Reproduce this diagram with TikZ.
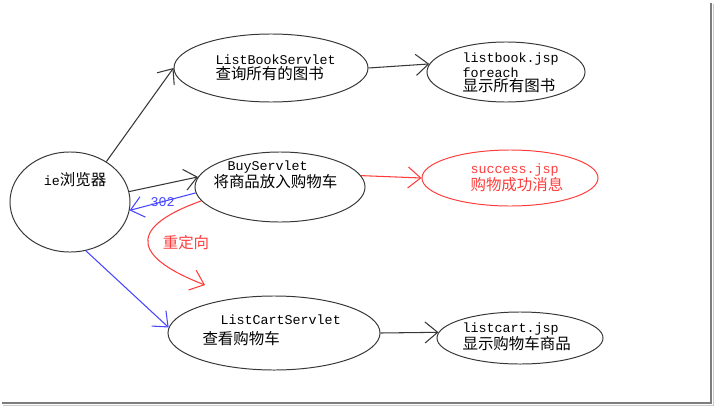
\documentclass[tikz,border=0pt]{standalone}
\usepackage{fontspec}
\setmonofont{Liberation Mono}
\newfontfamily\cjkfont{Noto Sans CJK SC}
\usetikzlibrary{shapes.geometric, arrows.meta}
\definecolor{inkgray}{RGB}{55,55,55}
\definecolor{penblue}{RGB}{70,70,255}
\definecolor{penred}{RGB}{255,60,60}
\definecolor{shadowgray}{RGB}{125,125,125}
\newcommand{\zh}[1]{{\cjkfont\fontsize{11}{11}\selectfont #1}}

\begin{document}
\begin{tikzpicture}[x=0.025cm, y=-0.025cm, >={Straight Barb[length=9pt,width=15pt]}, line width=0.75pt]
  \tikzstyle{bubble} = [ellipse, draw=inkgray, line width=0.7pt, inner sep=0]
  \tikzstyle{caption} = [inner sep=0, align=left, anchor=west, font=\ttfamily\fontsize{9.5}{10.5}\selectfont]
  \useasboundingbox (0,0) rectangle (715,407);

  % ellipses
  \node [bubble, minimum width=3cm, minimum height=2.5cm] (ie) at (70,202) {};
  \node [bubble, minimum width=4.85cm, minimum height=1.7cm] (book) at (271,68) {};
  \node [bubble, minimum width=3.95cm, minimum height=1.5cm] (bookjsp) at (506,72) {};
  \node [bubble, minimum width=4.25cm, minimum height=1.75cm] (buy) at (280,187) {};
  \node [bubble, draw=penred, minimum width=4.4cm, minimum height=1.4cm] (success) at (510,178) {};
  \node [bubble, minimum width=5.3cm, minimum height=1.85cm] (cart) at (274,333) {};
  \node [bubble, minimum width=4.15cm, minimum height=1.3cm] (cartjsp) at (520,338) {};

  % texts
  \node [caption, anchor=center] (ietxt) at (75,180) {ie\zh{浏览器}};
  \node [caption] (booktxt) at (215,68) {ListBookServlet\\\zh{查询所有的图书}};
  \node [caption] (bookjsptxt) at (462,73) {listbook.jsp\\foreach\\\zh{显示所有图书}};
  \node [caption] (buytxt) at (213,175) {\hspace*{0.35cm}BuyServlet\\\zh{将商品放入购物车}};
  \node [caption, text=penred] (successtxt) at (470,178) {success.jsp\\\zh{购物成功消息}};
  \node [caption] (carttxt) at (202,330) {\hspace*{0.45cm}ListCartServlet\\[4pt]\zh{查看购物车}};
  \node [caption] (cartjsptxt) at (462,337) {listcart.jsp\\\zh{显示购物车商品}};
  \node [caption, anchor=center, text=penred] (redirtxt) at (186,243) {\zh{重定向}};
  \coordinate (redirtip) at (205,285);

  % connectors
  \draw[->, inkgray] (ie.48) -- (book.west);
  \draw[->, inkgray] (book.east) -- (bookjsp.174);
  \draw[->, inkgray] (ie.10) -- (buy.173);
  \draw[->, penblue] (buy.184) -- node[caption, anchor=center, text=penblue] (code302) {302} (ie.-8);
  \draw[->, penred] (buy.8) -- (success.west);
  \draw[->, penred] (buy.190) .. controls (120,230) and (140,260) .. (redirtip);
  \draw[->, penblue] (ie.-72) -- (cart.177);
  \draw[->, inkgray] (cart.east) -- (cartjsp.176);

  % frame shadow
  \draw[shadowgray, line width=1.4pt] (2,403) -- (711,403) -- (711,3);
  \draw[shadowgray!40, line width=0.8pt] (3,405.5) -- (713.5,405.5) -- (713.5,4);
\end{tikzpicture}
\end{document}
